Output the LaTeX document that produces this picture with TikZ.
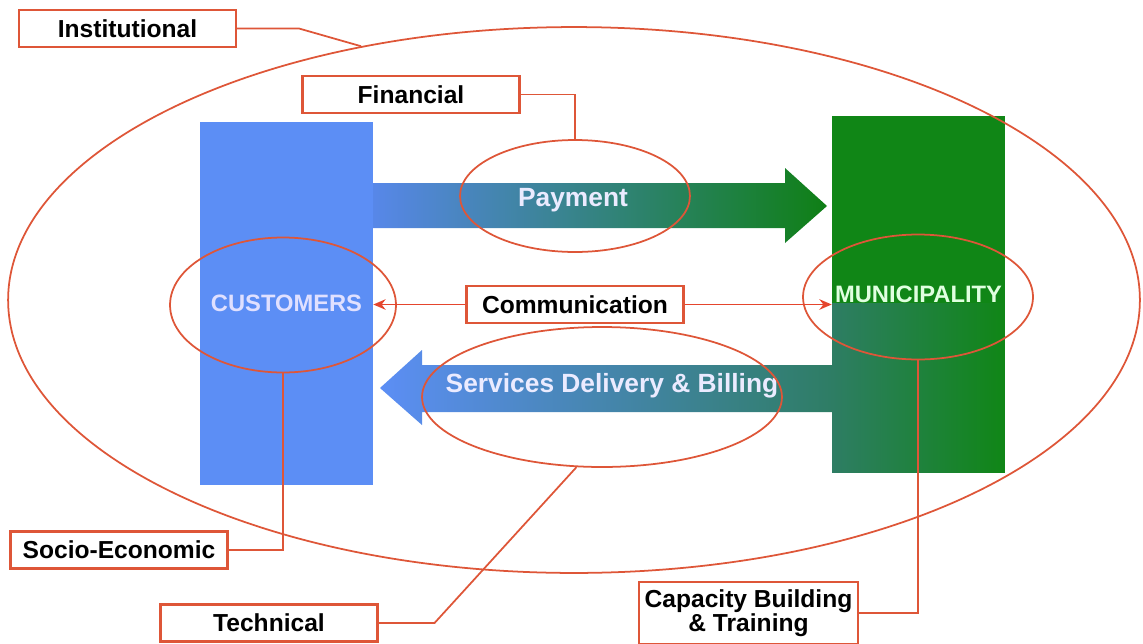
\documentclass[tikz,border=0pt]{standalone}
\usepackage{fontspec}
\setmainfont{Liberation Sans}
\usepackage{tikz}
\usetikzlibrary{arrows.meta,positioning,shapes.geometric}
\usepackage{xcolor}
\definecolor{ringred}{RGB}{222,86,56}
\definecolor{custblue}{RGB}{92,142,245}
\definecolor{munigreen}{RGB}{16,134,22}
\definecolor{midteal}{RGB}{46,125,100}
\definecolor{payteal}{RGB}{50,125,160}

\begin{document}
\begin{tikzpicture}[
  x=0.02cm, y=-0.02cm,
  tag/.style={draw=ringred, line width=1.2pt, fill=white, minimum width=4.34cm, minimum height=0.74cm, align=center, font=\bfseries\fontsize{14}{14}\selectfont},
  ring/.style={draw=ringred, line width=1pt, ellipse, inner sep=0pt},
  party/.style={minimum width=3.46cm, inner sep=0pt, font=\bfseries\fontsize{13.5}{15}\selectfont},
  flowtext/.style={text=white!92!blue, font=\bfseries\fontsize{15}{17}\selectfont},
  link/.style={draw=ringred, line width=1pt},
  arr/.style={-{Stealth[length=7pt,width=6pt]}, draw=ringred!80!red, line width=1pt}
]
\useasboundingbox (0,0) rectangle (1143,643);

% Customers and municipality
\node[party, fill=custblue, minimum height=7.26cm, text=white!88!blue] (cust) at (286.5,303.5) {CUSTOMERS};
\node[party, fill=munigreen, minimum height=7.14cm, text=white!88!green,
  path picture={\shade[left color=midteal, right color=munigreen] ([yshift=-0.17cm]path picture bounding box.west) rectangle (path picture bounding box.south east);}
  ] (muni) at (918.5,294.5) {MUNICIPALITY};

% Flows
\shade[left color=custblue!95!black, middle color=payteal, right color=munigreen!95!black]
  (373,183) -- (785,183) -- (785,168) -- (827,206) -- (785,243) -- (785,228) -- (373,228) -- cycle;
\shade[left color=custblue, right color=midteal]
  (832,365) -- (422,365) -- (422,350) -- (380,388) -- (422,425) -- (422,412) -- (832,412) -- cycle;
\node[flowtext] (paytext) at (573,200) {Payment};
\node[flowtext] (servtext) at (612,386) {Services Delivery \& Billing};

% Rings
\node[ring, minimum width=22.64cm, minimum height=10.92cm] (instring) at (574,300) {};
\node[ring, minimum width=4.6cm, minimum height=2.24cm] (payring) at (575,196) {};
\node[ring, minimum width=4.52cm, minimum height=2.7cm] (custring) at (283,305) {};
\node[ring, minimum width=4.6cm, minimum height=2.5cm] (muniring) at (918,297) {};
\node[ring, minimum width=7.2cm, minimum height=2.8cm] (servring) at (602,397) {};

% Labels
\node[tag] (inst) at (127.5,28.5) {Institutional};
\node[tag] (fin) at (411,94.5) {Financial};
\node[tag] (comm) at (575,304.5) {Communication};
\node[tag] (socio) at (119,550) {Socio-Economic};
\node[tag] (tech) at (269,623) {Technical};
\node[tag, minimum height=1.24cm, anchor=north] (cap) at (748.5,581) {Capacity Building\\ \& Training};

\draw[link] (inst.east) -- ++(62,0) -- (instring.130.8);
\draw[link] (fin.east) -| (payring.north);
\draw[link] (socio.east) -| (custring.south);
\draw[link] (tech.east) -- ++(56,0) -- (servring.250);
\draw[link] (cap.east) -| (muniring.south);

\draw[arr] (comm.west) -- (comm.west -| cust.east);
\draw[arr] (comm.east) -- (comm.east -| muni.west);
\end{tikzpicture}
\end{document}
